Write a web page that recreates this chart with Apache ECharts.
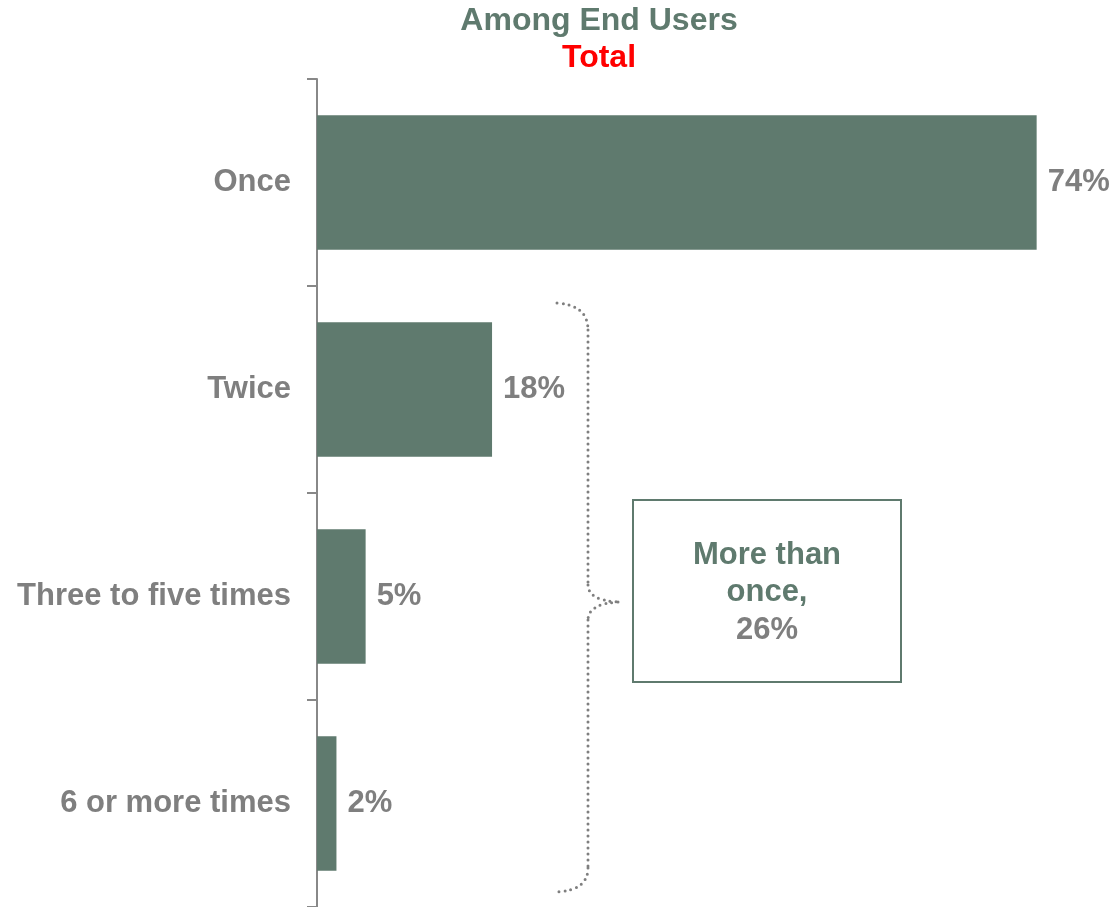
<!DOCTYPE html>
<html>
<head>
<meta charset="utf-8">
<script src="https://cdn.jsdelivr.net/npm/echarts@6/dist/echarts.min.js"></script>
<style>
html, body { margin: 0; padding: 0; background: #fff; }
#chart { width: 1114px; height: 907px; }
</style>
</head>
<body>
<div id="chart"></div>
<script>
const categories = ['Once', 'Twice', 'Three to five times', '6 or more times']
const values = [74, 18, 5, 2]
const titleLines = ['Among End Users', 'Total']
const boxLines = ['More than', 'once,', '26%']

const green = '#5f7a6e'
const grey = '#7f7f7f'
const font = 'Liberation Sans, Arial, sans-serif'
const bold = 'bold 31px ' + font
const titleFont = 'bold 32px ' + font
const dotted = { fill: null, stroke: grey, lineWidth: 3, lineDash: [0, 6], lineCap: 'round' }

const myChart = echarts.init(document.getElementById('chart'))
const option = {
    animation: false,
    grid: { left: 317, right: 19, top: 79, height: 832, containLabel: false },
    xAxis: {
        type: 'value', min: 0, max: 80,
        show: false
    },
    yAxis: {
        type: 'category',
        data: categories,
        inverse: true,
        axisLine: { show: true, lineStyle: { color: '#888888', width: 2 } },
        axisTick: { show: true, length: 10, lineStyle: { color: '#888888', width: 2 } },
        axisLabel: { margin: 26, color: grey, fontSize: 31, fontWeight: 'bold', fontFamily: font }
    },
    series: [{
        type: 'bar',
        data: values,
        barWidth: '65%',
        itemStyle: { color: green },
        label: {
            show: true, position: 'right', distance: 11,
            formatter: '{c}%',
            color: grey, fontSize: 31, fontWeight: 'bold', fontFamily: font
        }
    }],
    graphic: [
        {
            type: 'text', x: 599, y: 5, style: {
                text: titleLines[0], fill: green, font: titleFont, align: 'center'
            }
        },
        {
            type: 'text', x: 599, y: 42, style: {
                text: titleLines[1], fill: '#ff0000', font: titleFont, align: 'center'
            }
        },
        // curly brace
        { type: 'bezierCurve', shape: { x1: 557, y1: 303, cpx1: 588, cpy1: 305, x2: 588, y2: 330 }, style: dotted },
        { type: 'line', shape: { x1: 588, y1: 330, x2: 588, y2: 585 }, style: dotted },
        { type: 'bezierCurve', shape: { x1: 588, y1: 585, cpx1: 588, cpy1: 600, x2: 618, y2: 602 }, style: dotted },
        { type: 'bezierCurve', shape: { x1: 618, y1: 602, cpx1: 588, cpy1: 604, x2: 588, y2: 620 }, style: dotted },
        { type: 'line', shape: { x1: 588, y1: 620, x2: 588, y2: 868 }, style: dotted },
        { type: 'bezierCurve', shape: { x1: 588, y1: 868, cpx1: 588, cpy1: 890, x2: 557, y2: 892 }, style: dotted },
        {
            type: 'rect',
            shape: { x: 633, y: 500, width: 268, height: 182 },
            style: { fill: '#fff', stroke: green, lineWidth: 2 }
        },
        {
            type: 'text', x: 767, y: 540, style: {
                text: boxLines[0], fill: green, font: bold, align: 'center'
            }
        },
        {
            type: 'text', x: 767, y: 577, style: {
                text: boxLines[1], fill: green, font: bold, align: 'center'
            }
        },
        {
            type: 'text', x: 767, y: 615, style: {
                text: boxLines[2], fill: grey, font: bold, align: 'center'
            }
        }
    ]
}
myChart.setOption(option)
</script>
</body>
</html>
